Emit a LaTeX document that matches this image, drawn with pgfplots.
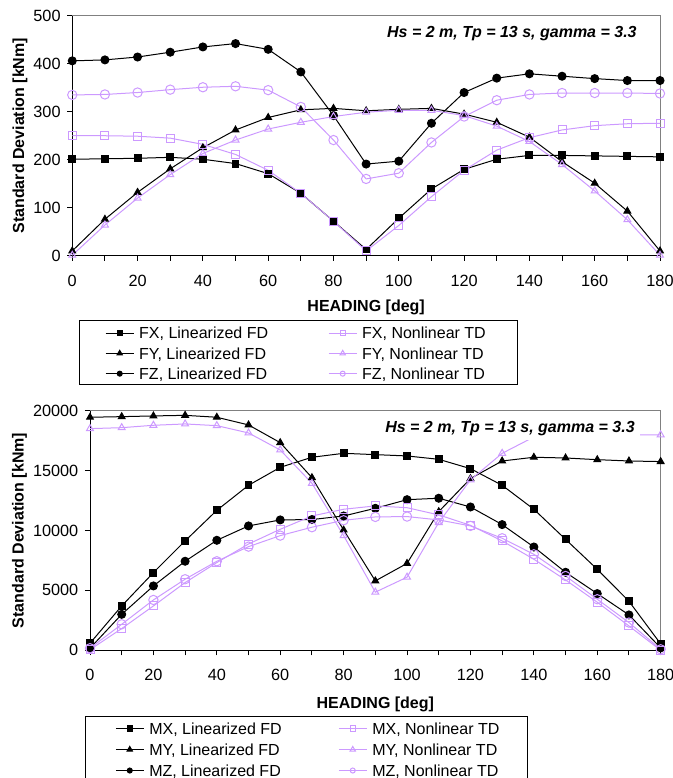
\documentclass[border=0pt]{standalone}
\usepackage{pgfplots}
\pgfplotsset{compat=1.18}
\usepackage{fontspec}
\setmainfont{Liberation Sans}
\definecolor{lav}{RGB}{204,153,255}

\tikzset{
  titlebox/.style={fill=white, anchor=base, inner xsep=3.75pt, inner ysep=3.5pt, text height=8.6pt, text depth=1.6pt,
    font=\fontsize{12}{14}\selectfont\bfseries\itshape},
}
% fixed-width legend cells: gap after the sample, then the text
\newcommand{\lc}[2]{\makebox[#1][l]{\hspace*{3.75pt}#2}}

\pgfplotsset{
  loadaxis/.style={
    scale only axis,
    xmin=0, xmax=180, ymin=0,
    axis lines*=left,
    axis line style={black, line width=0.75pt, -},
    xtick={0,20,...,180},
    minor xtick={10,30,...,170},
    tick align=outside,
    major tick length=3.75pt, minor tick length=3.75pt,
    every tick/.style={black, line width=0.75pt},
    minor tick style={black, line width=0.75pt},
    ticklabel style={font=\fontsize{12.2}{14}\selectfont},
    xticklabel style={yshift=-7pt},
    yticklabel style={xshift=-1.5pt},
    /pgf/number format/assume math mode=true,
    /pgf/number format/1000 sep={},
    clip=false,
    every axis x label/.style={font=\fontsize{12}{14}\selectfont\bfseries, anchor=base},
    every axis y label/.style={font=\fontsize{12}{14}\selectfont\bfseries, rotate=90, anchor=center},
    xlabel={HEADING [deg]},
    ylabel={Standard Deviation [kNm]},
    legend cell align=left,
    legend columns=2,
    legend image code/.code={\draw[mark repeat=2,mark phase=2,#1] plot coordinates {(0pt,0pt) (10.5pt,0pt) (21pt,0pt)};},
  },
  lin/.style={black, line width=0.75pt, mark options={solid, fill=black}},
  nl/.style={lav, line width=0.75pt, mark options={solid}},
  sqL/.style={lin, mark=square*, mark size=2.6pt},
  trL/.style={lin, mark=triangle*, mark size=2.9pt},
  ciL/.style={lin, mark=*, mark size=3pt},
  sqN/.style={nl, mark=square, mark size=3pt},
  trN/.style={nl, mark=triangle, mark size=3pt},
  ciN/.style={nl, mark=o, mark size=3.5pt},
}

% Force amplitudes (top) and moment amplitudes (bottom) against wave heading
\pgfplotstableread{
h   fxl  fxn  fyl  fyn  fzl  fzn
0   201  250  10   1    406  335
10  202  250  76   64   408  336
20  203  249  132  120  414  340
30  205  245  181  169  424  346
40  201  232  225  213  435  351
50  192  211  262  241  442  353
60  171  178  288  264  430  345
70  130  130  304  278  383  310
80  72   72   307  290  292  241
90  13   10   302  299  191  160
100 78   63   305  303  197  172
110 139  123  307  303  276  236
120 180  178  295  292  340  290
130 201  220  278  270  370  324
140 209  246  247  238  379  336
150 209  262  196  190  374  339
160 208  271  151  135  369  339
170 207  275  93   75   365  339
180 206  276  10   1    365  338
}\forces

\pgfplotstableread{
h   mxl    mxn    myl    myn    mzl    mzn
0   584    50     19450  18500  170    170
10  3700   1810   19500  18580  3000   2170
20  6480   3700   19560  18780  5370   4200
30  9130   5650   19610  18890  7430   5930
40  11680  7320   19450  18750  9180   7430
50  13770  8870   18810  18140  10380  8650
60  15270  10100  17330  16720  10880  9570
70  16110  11210  14410  13940  10910  10270
80  16440  11770  10040  9570   11210  10850
90  16330  12050  5790   4850   11850  11130
100 16220  11900  7250   6100   12570  11160
110 15940  11300  11570  10660  12690  10880
120 15160  10430  14330  14220  11960  10380
130 13770  9130   15800  16440  10490  9350
140 11770  7600   16110  17800  8620   8010
150 9260   5870   16050  17950  6510   6200
160 6760   4010   15910  17980  4730   4260
170 4090   2030   15800  17990  2950   2310
180 530    0      15750  17980  200    80
}\moments

\begin{document}
\begin{tikzpicture}
\useasboundingbox (0,0) rectangle (504.75pt,583.5pt);

% ---------- forces ----------
\begin{axis}[loadaxis,
  at={(54.2pt,391.7pt)}, anchor=south west,
  width=440.8pt, height=180pt,
  ymax=500, ytick={0,100,...,500},
  xlabel style={at={(axis description cs:0.5,-0.2304)}},
  ylabel style={at={(axis description cs:-0.089,0.5)}},
  legend style={at={(axis description cs:0.0556,-0.2792)}, anchor=north west,
    draw=none, fill=none, inner sep=0pt, column sep=0pt, row sep=0pt,
    font=\fontsize{12}{14}\selectfont,
    nodes={inner sep=0pt, text height=11.9pt, text depth=3.3pt}},
  after end axis/.append code={
    \draw[black, line width=0.75pt] (axis description cs:0.0131,-0.2708) rectangle (axis description cs:0.7567,-0.5346);
    \node[titlebox] at (rel axis cs:0.748,0.9095) {Hs = 2 m, Tp = 13 s, gamma = 3.3};
  },
]
\draw[gray, line width=0.75pt] (rel axis cs:0,1) -- (rel axis cs:1,1) -- (rel axis cs:1,0);
\addplot[sqL, forget plot] table[x=h, y=fxl] {\forces};
\addplot[trL, forget plot] table[x=h, y=fyl] {\forces};
\addplot[ciL, forget plot] table[x=h, y=fzl] {\forces};
\addplot[sqN, forget plot] table[x=h, y=fxn] {\forces};
\addplot[trN, forget plot] table[x=h, y=fyn] {\forces};
\addplot[ciN, forget plot] table[x=h, y=fzn] {\forces};
\addlegendimage{lin, mark=square*, mark size=1.9pt}
\addlegendentry{\lc{145.5pt}{FX, Linearized FD}}
\addlegendimage{nl, mark=square, mark size=1.9pt}
\addlegendentry{\lc{100pt}{FX, Nonlinear TD}}
\addlegendimage{lin, mark=triangle*, mark size=2.3pt}
\addlegendentry{\lc{145.5pt}{FY, Linearized FD}}
\addlegendimage{nl, mark=triangle, mark size=2.3pt}
\addlegendentry{\lc{100pt}{FY, Nonlinear TD}}
\addlegendimage{lin, mark=*, mark size=1.9pt}
\addlegendentry{\lc{145.5pt}{FZ, Linearized FD}}
\addlegendimage{nl, mark=o, mark size=1.9pt}
\addlegendentry{\lc{100pt}{FZ, Nonlinear TD}}
\end{axis}

% ---------- moments ----------
\begin{axis}[loadaxis,
  at={(67.5pt,95.8pt)}, anchor=south west,
  width=428pt, height=179.7pt,
  ymax=20000, ytick={0,5000,...,20000},
  scaled y ticks=false,
  xlabel style={at={(axis description cs:0.5,-0.242)}},
  ylabel style={at={(axis description cs:-0.1235,0.5)}},
  legend style={at={(axis description cs:0.0438,-0.2817)}, anchor=north west,
    draw=none, fill=none, inner sep=0pt, column sep=0pt, row sep=0pt,
    font=\fontsize{12}{14}\selectfont,
    nodes={inner sep=0pt, text height=12.2pt, text depth=3.55pt}},
  after end axis/.append code={
    \draw[black, line width=0.75pt] (axis description cs:-0.00876,-0.2771) rectangle (axis description cs:0.7675,-0.62);
    \node[titlebox] at (rel axis cs:0.736,0.908) {Hs = 2 m, Tp = 13 s, gamma = 3.3};
  },
]
\draw[gray, line width=0.75pt] (rel axis cs:0,1) -- (rel axis cs:1,1) -- (rel axis cs:1,0);
\addplot[sqL, forget plot] table[x=h, y=mxl] {\moments};
\addplot[trL, forget plot] table[x=h, y=myl] {\moments};
\addplot[ciL, forget plot] table[x=h, y=mzl] {\moments};
\addplot[sqN, forget plot] table[x=h, y=mxn] {\moments};
\addplot[trN, forget plot] table[x=h, y=myn] {\moments};
\addplot[ciN, forget plot] table[x=h, y=mzn] {\moments};
\addlegendimage{lin, mark=square*, mark size=1.9pt}
\addlegendentry{\lc{145.5pt}{MX, Linearized FD}}
\addlegendimage{nl, mark=square, mark size=1.9pt}
\addlegendentry{\lc{100pt}{MX, Nonlinear TD}}
\addlegendimage{lin, mark=triangle*, mark size=2.3pt}
\addlegendentry{\lc{145.5pt}{MY, Linearized FD}}
\addlegendimage{nl, mark=triangle, mark size=2.3pt}
\addlegendentry{\lc{100pt}{MY, Nonlinear TD}}
\addlegendimage{lin, mark=*, mark size=1.9pt}
\addlegendentry{\lc{145.5pt}{MZ, Linearized FD}}
\addlegendimage{nl, mark=o, mark size=1.9pt}
\addlegendentry{\lc{100pt}{MZ, Nonlinear TD}}
\end{axis}
\end{tikzpicture}
\end{document}
